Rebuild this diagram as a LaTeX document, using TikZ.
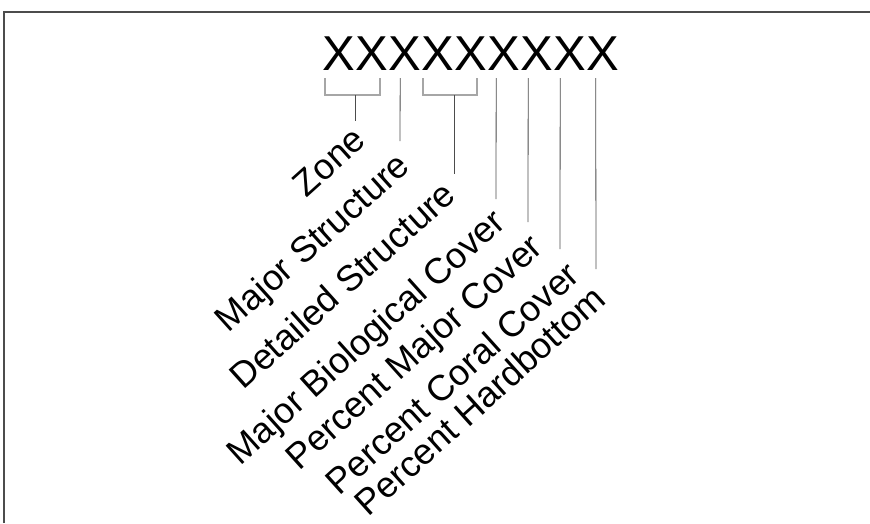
\documentclass[tikz,border=0pt]{standalone}
\usepackage{fontspec}
\setmainfont{Liberation Sans}
\usetikzlibrary{calc}
\begin{document}
\begin{tikzpicture}[x=1pt,y=-1pt,line cap=butt,
	xchar/.style={anchor=base,inner sep=0pt,font=\fontsize{49}{49}\selectfont},
	fieldname/.style={anchor=base east,inner sep=0pt,rotate=42,font=\fontsize{36}{36}\selectfont},
	tick/.style={black!70,line width=0.8pt},
	brace/.style={black!35,line width=1.6pt}]
		\useasboundingbox (0,0) rectangle (870,523) ;
		\draw[black!70,line width=1.2pt] (4,523)--(4,12)--(870,12) ;
		\foreach \i in {1,...,9} \node[xchar] (x\i) at ({306.2+33*\i},70) {X} ;
		% brackets over two characters
		\draw[brace] ($(x1.base)+(-14,8)$)--++(0,17)-|($(x2.base)+(8,8)$) ;
		\draw[brace] ($(x4.base)+(-15,8)$)--++(0,17)-|($(x5.base)+(5.5,8)$) ;
		\coordinate (zone-top) at ($(x1.base)!0.5!(x2.base)+(0,25)$) ;
		\coordinate (det-top) at ($(x4.base)!0.5!(x5.base)+(0,25)$) ;
		\coordinate (zone-end) at (355,121) ;
		\coordinate (major-end) at (400,141) ;
		\coordinate (det-end) at (451,174) ;
		\coordinate (bio-end) at (496,199) ;
		\coordinate (pmc-end) at (528,222) ;
		\coordinate (coral-end) at (560,249) ;
		\coordinate (hard-end) at (596,269) ;
		\draw[tick] (zone-top)--(zone-top|-zone-end) ;
		\draw[tick] (det-top)--(det-top|-det-end) ;
		\draw[tick] ($(x3.base)+(-5,8)$)--(major-end) ;
		\draw[tick] ($(x6.base)+(-8,8)$)--(bio-end) ;
		\draw[tick] ($(x7.base)+(-9,8)$)--(pmc-end) ;
		\draw[tick] ($(x8.base)+(-10,8)$)--(coral-end) ;
		\draw[tick] ($(x9.base)+(-7.5,8)$)--(hard-end) ;
		% rotated field names
		\node[fieldname] (zone) at ($(zone-end)+(13,22)$) {Zone} ;
		\node[fieldname] (major) at ($(major-end)+(12,28)$) {Major Structure} ;
		\node[fieldname] (det) at ($(det-end)+(7,24)$) {Detailed Structure} ;
		\node[fieldname] (bio) at ($(bio-end)+(12,26)$) {Major Biological Cover} ;
		\node[fieldname] (pmc) at ($(pmc-end)+(17,28)$) {Percent Major Cover} ;
		\node[fieldname] (coral) at ($(coral-end)+(22,29)$) {Percent Coral Cover} ;
		\node[fieldname] (hard) at ($(hard-end)+(12,33)$) {Percent Hardbottom} ;
	\end{tikzpicture}
\end{document}
